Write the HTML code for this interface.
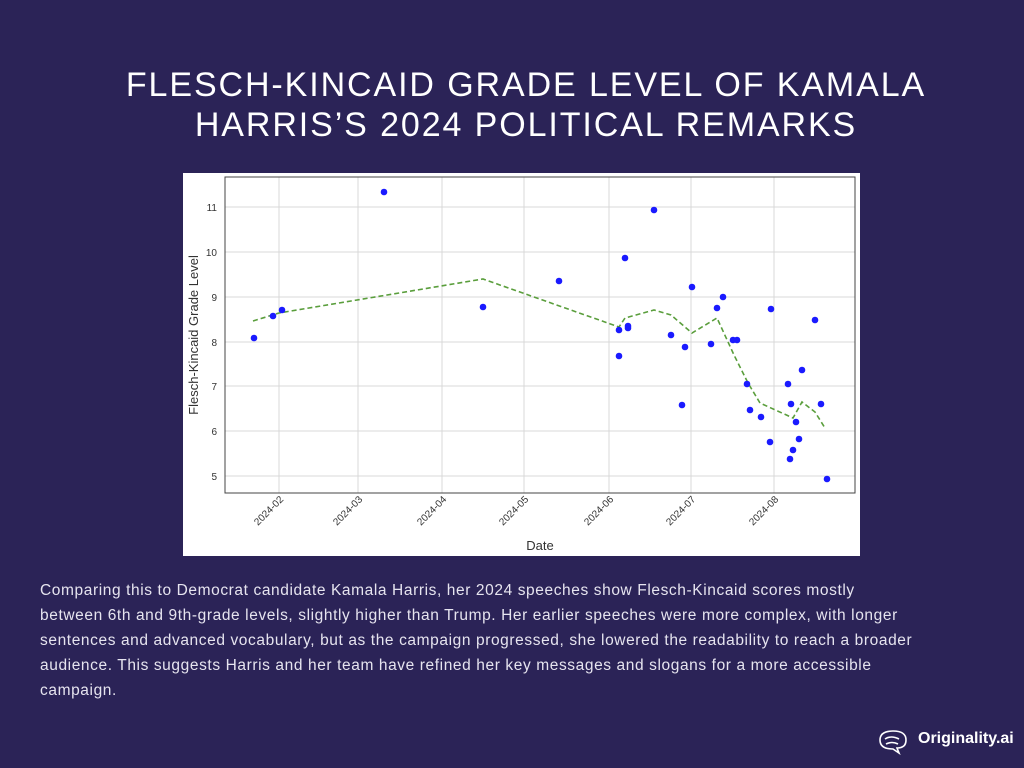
<!DOCTYPE html>
<html><head><meta charset="utf-8"><style>
body{margin:0;width:1024px;height:768px;background:#2b2357;overflow:hidden;position:relative;font-family:"Liberation Sans",sans-serif}
.t{position:absolute;left:14px;width:1024px;text-align:center;color:#fff;font-size:34px;line-height:40px;top:65px;letter-spacing:1.9px}
.p{position:absolute;left:40px;top:578px;color:#e6e4ef;font-size:15.5px;line-height:25px;white-space:nowrap;letter-spacing:0.6px}
.logo{position:absolute;left:918px;top:730px;color:#fff;font-weight:bold;font-size:16px}
</style></head><body>
<div class="t">FLESCH-KINCAID GRADE LEVEL OF KAMALA<br>HARRIS’S 2024 POLITICAL REMARKS</div>
<svg style="position:absolute;left:0;top:0" width="1024" height="768">
<rect x="183" y="173" width="677" height="383" fill="#fff"/>
<g stroke="#d8d8d8" stroke-width="1">
<line x1="279" y1="177" x2="279" y2="493"/><line x1="358" y1="177" x2="358" y2="493"/><line x1="442" y1="177" x2="442" y2="493"/><line x1="524" y1="177" x2="524" y2="493"/><line x1="609" y1="177" x2="609" y2="493"/><line x1="691" y1="177" x2="691" y2="493"/><line x1="774" y1="177" x2="774" y2="493"/>
<line x1="225" y1="207" x2="855" y2="207"/><line x1="225" y1="252" x2="855" y2="252"/><line x1="225" y1="297" x2="855" y2="297"/><line x1="225" y1="342" x2="855" y2="342"/><line x1="225" y1="386" x2="855" y2="386"/><line x1="225" y1="431" x2="855" y2="431"/><line x1="225" y1="476" x2="855" y2="476"/>
</g>
<rect x="225" y="177" width="630" height="316" fill="none" stroke="#444" stroke-width="1"/>
<g font-size="10" fill="#333" text-anchor="end">
<text x="217" y="211">11</text><text x="217" y="256">10</text><text x="217" y="301">9</text><text x="217" y="346">8</text><text x="217" y="390">7</text><text x="217" y="435">6</text><text x="217" y="480">5</text>
</g>
<g font-size="10" fill="#333" text-anchor="end">
<text transform="translate(284,500) rotate(-45)">2024-02</text>
<text transform="translate(363,500) rotate(-45)">2024-03</text>
<text transform="translate(447,500) rotate(-45)">2024-04</text>
<text transform="translate(529,500) rotate(-45)">2024-05</text>
<text transform="translate(614,500) rotate(-45)">2024-06</text>
<text transform="translate(696,500) rotate(-45)">2024-07</text>
<text transform="translate(779,500) rotate(-45)">2024-08</text>
</g>
<text x="540" y="550" font-size="13" fill="#333" text-anchor="middle">Date</text>
<text transform="translate(198,335) rotate(-90)" font-size="13" fill="#333" text-anchor="middle">Flesch-Kincaid Grade Level</text>
<polyline fill="none" stroke="#5a9e3c" stroke-width="1.6" stroke-dasharray="5,3" points="253,321 279,313 483,279 619,327 625,318 654,310 671,315 692,333 717,318 734,355 748,383 760,403 793,418 802,402 815,412 825,428"/>
<g fill="#1a1aff">
<circle cx="254" cy="338" r="3.3"/><circle cx="273" cy="316" r="3.3"/><circle cx="282" cy="310" r="3.3"/><circle cx="384" cy="192" r="3.3"/><circle cx="483" cy="307" r="3.3"/><circle cx="559" cy="281" r="3.3"/><circle cx="619" cy="330" r="3.3"/><circle cx="619" cy="356" r="3.3"/><circle cx="625" cy="258" r="3.3"/><circle cx="628" cy="326" r="3.3"/><circle cx="628" cy="328" r="3.3"/><circle cx="654" cy="210" r="3.3"/><circle cx="671" cy="335" r="3.3"/><circle cx="685" cy="347" r="3.3"/><circle cx="682" cy="405" r="3.3"/><circle cx="692" cy="287" r="3.3"/><circle cx="711" cy="344" r="3.3"/><circle cx="717" cy="308" r="3.3"/><circle cx="723" cy="297" r="3.3"/><circle cx="733" cy="340" r="3.3"/><circle cx="737" cy="340" r="3.3"/><circle cx="747" cy="384" r="3.3"/><circle cx="750" cy="410" r="3.3"/><circle cx="761" cy="417" r="3.3"/><circle cx="770" cy="442" r="3.3"/><circle cx="771" cy="309" r="3.3"/><circle cx="788" cy="384" r="3.3"/><circle cx="791" cy="404" r="3.3"/><circle cx="790" cy="459" r="3.3"/><circle cx="793" cy="450" r="3.3"/><circle cx="796" cy="422" r="3.3"/><circle cx="799" cy="439" r="3.3"/><circle cx="802" cy="370" r="3.3"/><circle cx="815" cy="320" r="3.3"/><circle cx="821" cy="404" r="3.3"/><circle cx="827" cy="479" r="3.3"/>
</g>
<g fill="none" stroke="#fff" stroke-width="1.6">
<path d="M880 740 q0-9 13-9 q13 0 13 9 q0 8-9 8 l2 5 l-6-4 q-13 0-13-9z"/>
<path d="M885 739 q6-4 14 0 M886 744 q6-3 12 0"/>
</g>
</svg>
<div class="p">Comparing this to Democrat candidate Kamala Harris, her 2024 speeches show Flesch-Kincaid scores mostly<br>between 6th and 9th-grade levels, slightly higher than Trump. Her earlier speeches were more complex, with longer<br>sentences and advanced vocabulary, but as the campaign progressed, she lowered the readability to reach a broader<br>audience. This suggests Harris and her team have refined her key messages and slogans for a more accessible<br>campaign.</div>
<div class="logo">Originality.ai</div>
</body></html>
